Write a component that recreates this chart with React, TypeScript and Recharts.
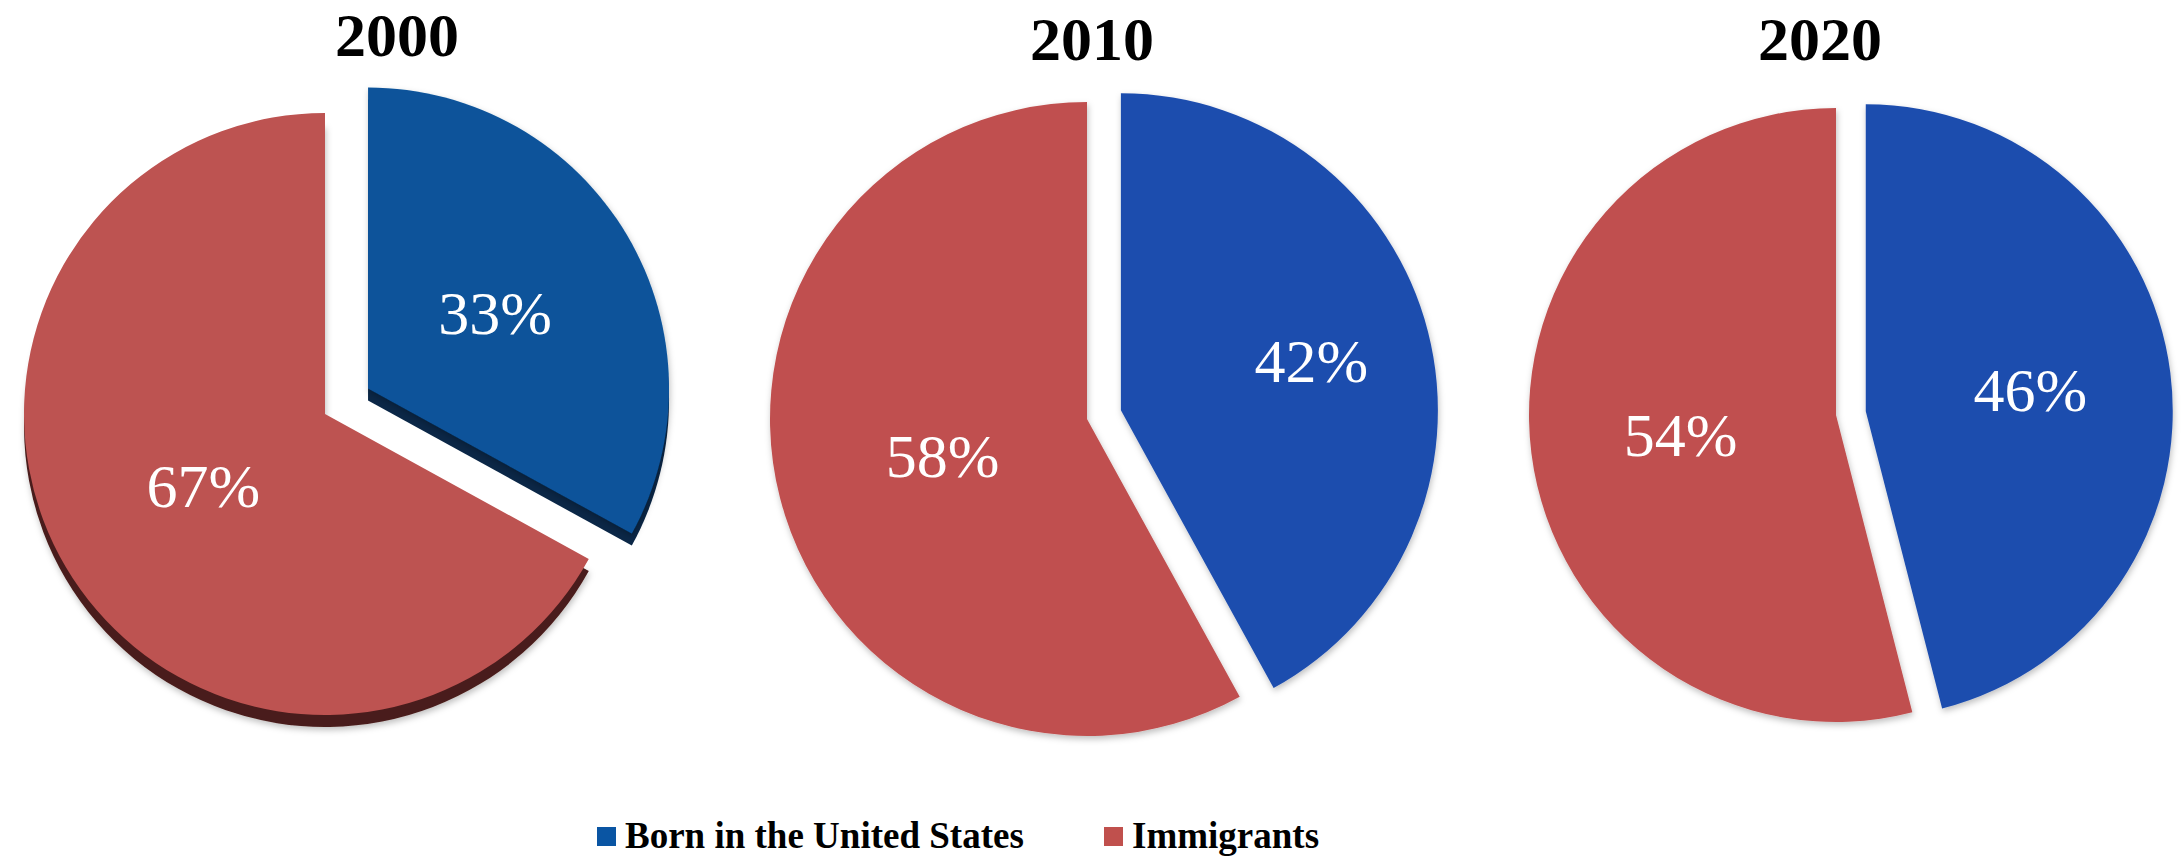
import { PieChart, Pie, Cell, Legend } from 'recharts'

const YEARS = ['2000', '2010', '2020']
const SERIES = ['Born in the United States', 'Immigrants']
const BORN_IN_US = [33, 42, 46]
const IMMIGRANTS = [67, 58, 54]

const LEGEND_COLORS = ['#0a55a3', '#c0504d']

// per-chart placement
const LAYOUT = [
  { cx: 325, cy: 414, r: 301, explode: 50, titleX: 397, titleY: 56, labelFrac: [0.49, 0.47], depth: 12, blue: '#0a539a', red: '#bd5351' },
  { cx: 1087, cy: 419, r: 317, explode: 35, titleX: 1092, titleY: 60, labelFrac: [0.62, 0.47], depth: 0, blue: '#1f4eae', red: '#c0504f' },
  { cx: 1836, cy: 415, r: 307, explode: 30, titleX: 1820, titleY: 60, labelFrac: [0.54, 0.51], depth: 0, blue: '#1f4eae', red: '#c0504f' },
]

const DEPTH_COLORS = ['#0b2747', '#4a1c1a']
const SERIF = '"Liberation Serif", "Times New Roman", serif'
const RAD = Math.PI / 180

const makeLabel = (show: string, frac: number) => (props: any) => {
  const name = props.payload?.name ?? props.name
  if (name !== show) return null
  const r = props.outerRadius * frac
  const x = props.cx + r * Math.cos(-props.midAngle * RAD)
  const y = props.cy + r * Math.sin(-props.midAngle * RAD)
  return (
    <text x={x} y={y} fill="#fff" textAnchor="middle" dominantBaseline="central" fontSize={62} fontFamily={SERIF}>
      {props.value}%
    </text>
  )
}

const renderLegend = () => (
  <svg width={2183} height={49}>
    <rect x={597} y={19} width={19} height={19} fill={LEGEND_COLORS[0]} />
    <text x={625} y={40} fontSize={37} fontWeight="bold" fontFamily={SERIF}>{SERIES[0]}</text>
    <rect x={1104} y={19} width={19} height={19} fill={LEGEND_COLORS[1]} />
    <text x={1132} y={40} fontSize={37} fontWeight="bold" fontFamily={SERIF}>{SERIES[1]}</text>
  </svg>
)

export default function App() {
  const pies: any[] = []

  YEARS.forEach((year, i) => {
    const l = LAYOUT[i]
    const data = [
      { name: SERIES[0], value: BORN_IN_US[i] },
      { name: SERIES[1], value: IMMIGRANTS[i] },
    ]
    const share = BORN_IN_US[i] / (BORN_IN_US[i] + IMMIGRANTS[i])
    const mid = (90 - 180 * share) * RAD
    const bx = l.cx + l.explode * Math.cos(mid)
    const by = l.cy - l.explode * Math.sin(mid)
    const common = {
      data,
      dataKey: 'value',
      nameKey: 'name',
      startAngle: 90,
      endAngle: -270,
      outerRadius: l.r,
      stroke: 'none',
      isAnimationActive: false,
      legendType: 'none' as const,
      labelLine: false,
    }

    if (l.depth) {
      pies.push(
        <Pie key={year + 'd1'} {...common} cx={l.cx} cy={l.cy + l.depth}>
          <Cell fill="transparent" />
          <Cell fill={DEPTH_COLORS[1]} filter="url(#softShadow)" />
        </Pie>,
        <Pie key={year + 'd0'} {...common} cx={bx} cy={by + l.depth}>
          <Cell fill={DEPTH_COLORS[0]} />
          <Cell fill="transparent" />
        </Pie>
      )
    }
    pies.push(
      <Pie key={year + 'red'} {...common} cx={l.cx} cy={l.cy} label={makeLabel(SERIES[1], l.labelFrac[1])}>
        <Cell fill="transparent" />
        <Cell fill={l.red} filter={l.depth ? undefined : 'url(#softShadow)'} />
      </Pie>,
      <Pie key={year + 'blue'} {...common} cx={bx} cy={by} label={makeLabel(SERIES[0], l.labelFrac[0])}>
        <Cell fill={l.blue} filter="url(#softShadow)" />
        <Cell fill="transparent" />
      </Pie>
    )
  })

  return (
    <div style={{ position: 'absolute', left: 0, top: 0, width: 2183, height: 857, background: '#fff' }}>
      <PieChart width={2183} height={857} margin={{ top: 0, right: 0, bottom: 0, left: 0 }}>
        <defs>
          <filter id="softShadow" x="-10%" y="-10%" width="120%" height="120%">
            <feDropShadow dx={1} dy={3} stdDeviation={3} floodColor="#000" floodOpacity={0.25} />
          </filter>
        </defs>
        {pies}
        {YEARS.map((year, i) => (
          <text key={year} x={LAYOUT[i].titleX} y={LAYOUT[i].titleY} textAnchor="middle" fontSize={62} fontWeight="bold" fontFamily={SERIF}>
            {year}
          </text>
        ))}
        <Legend content={renderLegend} wrapperStyle={{ left: 0, top: 808, width: 2183, height: 49 }} />
      </PieChart>
    </div>
  )
}
